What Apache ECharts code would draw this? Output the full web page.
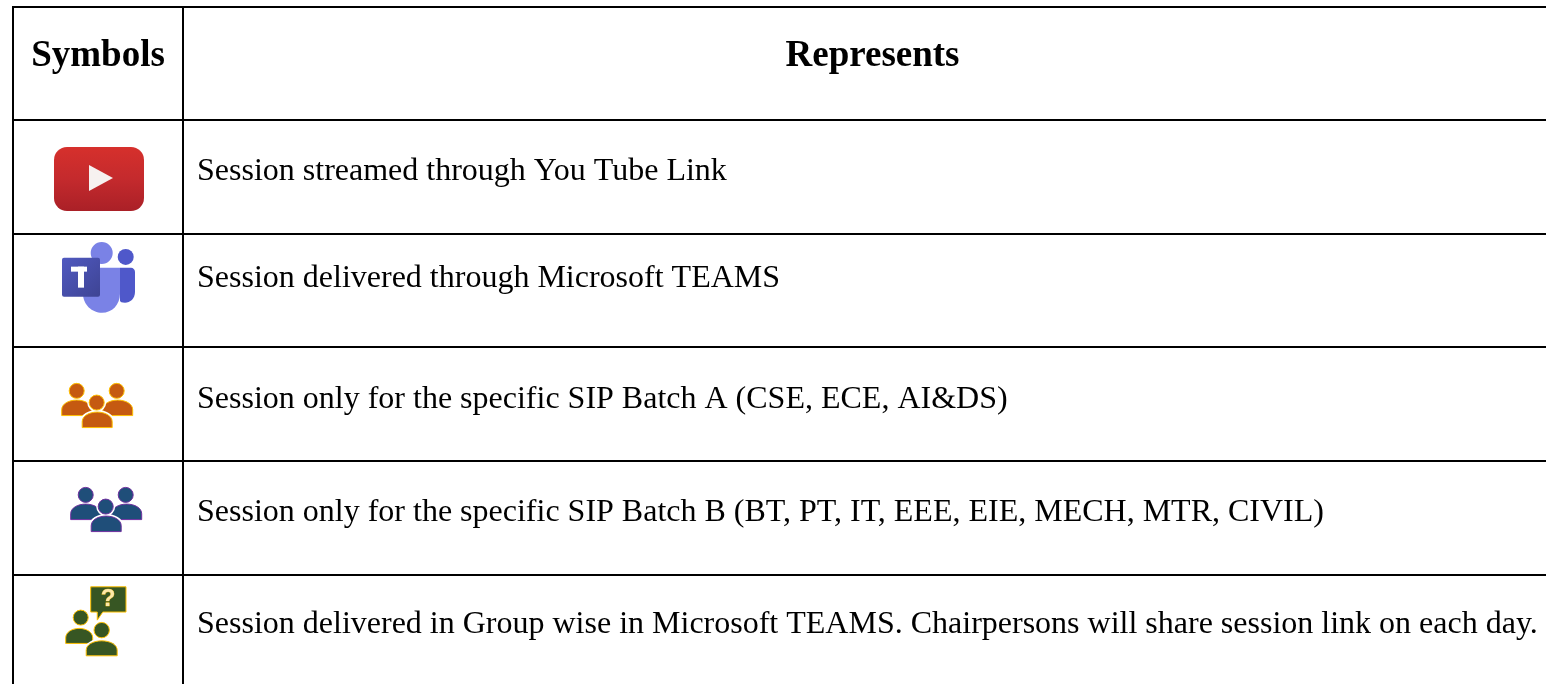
<!DOCTYPE html>
<html>
<head>
<meta charset="utf-8">
<title>Symbols table</title>
<script src="https://cdn.jsdelivr.net/npm/echarts@6/dist/echarts.min.js"></script>
<style>
html, body { margin: 0; padding: 0; background: #fff; overflow: hidden; }
#table-chart { width: 1546px; height: 684px; }
</style>
</head>
<body>
<div id="table-chart"></div>
<script>
// table content
const tableHeaders = ['Symbols', 'Represents'];
const rowSymbols = ['youtube', 'teams', 'batchA', 'batchB', 'groupwise'];
const rowDescriptions = [
    'Session streamed through You Tube Link',
    'Session delivered through Microsoft TEAMS',
    'Session only for the specific SIP Batch A (CSE, ECE, AI&DS)',
    'Session only for the specific SIP Batch B (BT, PT, IT, EEE, EIE, MECH, MTR, CIVIL)',
    'Session delivered in Group wise in Microsoft TEAMS. Chairpersons will share session link on each day.'
];

const SYMBOL_COL_WIDTH = 170;
const TEXT_PAD = 14;
const FONT = '"Liberation Serif", "Times New Roman", serif';
// the text does not sit at the same height in every row
const TEXT_SHIFT = [-6.5, -5.5, -12.5, -4.5, -5.5, -6.5];

// dome shaped shoulders of the people icons
const BODY_PATH = 'M0 16 L0 10 C0 4 7 0 15 0 C23 0 30 4 30 10 L30 16 Z';

function body(x, y, w, h, fill, stroke) {
    return {
        type: 'path',
        shape: { pathData: BODY_PATH, x: x, y: y, width: w, height: h, layout: 'cover' },
        style: { fill: fill, stroke: stroke, lineWidth: 1 }
    };
}

function head(cx, cy, r, fill, stroke) {
    return {
        type: 'circle',
        shape: { cx: cx, cy: cy, r: r },
        style: { fill: fill, stroke: stroke, lineWidth: 1 }
    };
}

// white halo so the front person stands apart from the ones behind
function halo(el) {
    return Object.assign({}, el, { style: { fill: '#fff', stroke: '#fff', lineWidth: 4 } });
}

function youtubeIcon(x, y) {
    const grad = new echarts.graphic.LinearGradient(0, 0, 0, 1, [
        { offset: 0, color: '#d6302c' },
        { offset: 0.5, color: '#c42a2d' },
        { offset: 1, color: '#aa2027' }
    ]);
    return {
        type: 'group', x: x, y: y,
        children: [
            { type: 'rect', shape: { x: -45, y: -32, width: 90, height: 64, r: 13 }, style: { fill: grad } },
            { type: 'polygon', shape: { points: [[-10, -14], [14, -1], [-10, 12]] }, style: { fill: '#f6f1f0' } }
        ]
    };
}

function teamsIcon(x, y) {
    const square = new echarts.graphic.LinearGradient(0, 0, 1, 1, [
        { offset: 0, color: '#5059c0' },
        { offset: 1, color: '#3e4494' }
    ]);
    return {
        type: 'group', x: x, y: y,
        children: [
            { type: 'path', shape: { pathData: 'M0 0 L11 0 C13 0 15 2 15 4 L15 24 C15 31 10 35 5 35 C2 35 0 34 0 33 Z', x: 58, y: 18, width: 15, height: 35, layout: 'cover' }, style: { fill: '#4f58ca' } },
            { type: 'path', shape: { pathData: 'M0 0 L37 0 L37 26 C37 37 29 45 19 45 C9 45 0 37 0 26 Z', x: 21, y: 18, width: 37, height: 45, layout: 'cover' }, style: { fill: '#7a82e6' } },
            { type: 'circle', shape: { cx: 39.7, cy: 3.3, r: 11 }, style: { fill: '#7a82e6' } },
            { type: 'circle', shape: { cx: 63.7, cy: 7.3, r: 8 }, style: { fill: '#4f58ca' } },
            { type: 'rect', shape: { x: 0, y: 8, width: 38, height: 39, r: 2 }, style: { fill: square } },
            { type: 'rect', shape: { x: 9, y: 17, width: 16, height: 5 }, style: { fill: '#fff' } },
            { type: 'rect', shape: { x: 16, y: 17, width: 6, height: 21 }, style: { fill: '#fff' } }
        ]
    };
}

function peopleIcon(x, y, fill, stroke) {
    const midHead = head(0, 0, 7.5, fill, stroke);
    const midBody = body(-14.5, 9.5, 30, 15.5, fill, stroke);
    return {
        type: 'group', x: x, y: y,
        children: [
            body(-35, -2.5, 30, 15.5, fill, stroke),
            body(6, -2.5, 30, 15.5, fill, stroke),
            head(-20, -11.7, 7.5, fill, stroke),
            head(20, -11.7, 7.5, fill, stroke),
            halo(midHead),
            halo(midBody),
            midHead,
            midBody
        ]
    };
}

function groupwiseIcon(x, y) {
    const fill = '#375623';
    const stroke = '#ffc000';
    const backHead = head(-21, -12.5, 7.5, fill, stroke);
    const frontHead = head(0, 0, 7.7, fill, stroke);
    const frontBody = body(-15.5, 10.7, 31, 15, fill, stroke);
    return {
        type: 'group', x: x, y: y,
        children: [
            {
                type: 'path',
                shape: { pathData: 'M0 0 L35 0 L35 25 L12 25 L6.5 33 L6.5 25 L0 25 Z', x: -11, y: -43.3, width: 35.3, height: 33.3, layout: 'cover' },
                style: { fill: fill, stroke: stroke, lineWidth: 1 }
            },
            {
                type: 'text',
                style: { text: '?', x: 6.5, y: -30.5, fill: '#ffe9a8', stroke: '#ffc000', lineWidth: 0.5, font: 'bold 24px "Liberation Sans", Arial, sans-serif', align: 'center', verticalAlign: 'middle' }
            },
            body(-36, -1.7, 27, 15, fill, stroke),
            backHead,
            halo(frontHead),
            halo(frontBody),
            frontHead,
            frontBody
        ]
    };
}

function drawSymbol(key, cx, cy) {
    if (key === 'youtube') return youtubeIcon(cx + 1, cy + 2);
    if (key === 'teams') return teamsIcon(cx - 36, cy - 41);
    if (key === 'batchA') return peopleIcon(cx - 1.3, cy - 1.7, '#c55a11', '#ffc000');
    if (key === 'batchB') return peopleIcon(cx + 7.7, cy - 11.3, '#1f4e79', '#7030a0');
    return groupwiseIcon(cx + 3.7, cy - 1.4);
}

// each table row is one category band, the cell is laid out from the band
function renderRow(params, api) {
    const row = api.value(0);
    const isHeader = row === 0;
    const band = api.size([0, 1])[1];
    const cy = api.coord([0, row])[1];
    const left = api.coord([0, row])[0];
    const divider = api.coord([SYMBOL_COL_WIDTH, row])[0];
    const right = params.coordSys.x + params.coordSys.width;
    const top = Math.round(cy - band / 2);
    const bottom = Math.round(cy + band / 2);
    const symbolCx = (left + divider) / 2;
    const textY = cy + TEXT_SHIFT[row];
    const lineStyle = { stroke: '#000', lineWidth: 2 };
    const children = [
        { type: 'line', shape: { x1: left - 1, y1: top, x2: right, y2: top }, style: lineStyle },
        { type: 'line', shape: { x1: left, y1: top, x2: left, y2: bottom }, style: lineStyle },
        { type: 'line', shape: { x1: divider, y1: top, x2: divider, y2: bottom }, style: lineStyle }
    ];
    if (isHeader) {
        children.push({
            type: 'text',
            style: { text: tableHeaders[0], x: symbolCx, y: textY, fill: '#000', font: 'bold 37px ' + FONT, align: 'center', verticalAlign: 'middle' }
        });
        children.push({
            type: 'text',
            style: { text: tableHeaders[1], x: (divider + right) / 2 + 8, y: textY, fill: '#000', font: 'bold 37px ' + FONT, align: 'center', verticalAlign: 'middle' }
        });
    } else {
        children.push(drawSymbol(rowSymbols[row - 1], symbolCx, cy));
        children.push({
            type: 'text',
            style: { text: rowDescriptions[row - 1], x: divider + TEXT_PAD, y: textY, fill: '#000', font: '32px ' + FONT, align: 'left', verticalAlign: 'middle' }
        });
    }
    return { type: 'group', children: children };
}

const rowNames = ['header'].concat(rowSymbols);
const chart = echarts.init(document.getElementById('table-chart'));

chart.setOption({
    animation: false,
    backgroundColor: '#fff',
    tooltip: { show: false },
    grid: { left: 13, top: 6.6, width: 1533, height: 681.72, outerBoundsMode: 'none' },
    xAxis: { type: 'value', min: 0, max: 1533, show: false },
    yAxis: { type: 'category', inverse: true, data: rowNames, show: false },
    series: [
        {
            type: 'custom',
            silent: true,
            clip: false,
            renderItem: renderRow,
            encode: { x: 1, y: 0 },
            data: rowNames.map((name, i) => [i, 0])
        }
    ]
});
</script>
</body>
</html>
